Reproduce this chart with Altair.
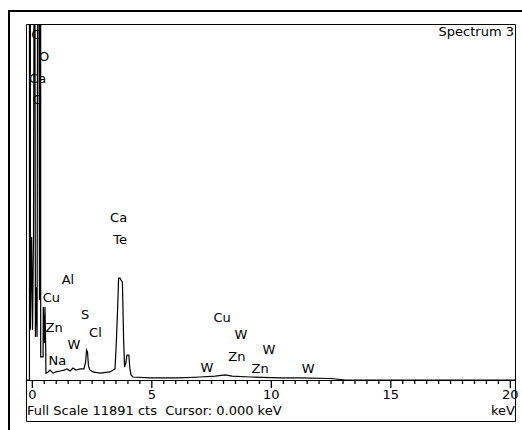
import altair as alt
import pandas as pd

# Spectrum trace (keV, counts); values above full scale are clipped at the top
energy = [-0.22, -0.12, -0.12, -0.08, -0.08, -0.03, 0.01, 0.05, 0.07, 0.11,
          0.13, 0.17, 0.20, 0.22, 0.28, 0.30, 0.32, 0.35, 0.35, 0.45,
          0.46, 0.50, 0.53, 0.56, 0.57, 0.66, 0.74, 0.87, 0.99, 1.16,
          1.33, 1.45, 1.58, 1.70, 1.83, 2.00, 2.16, 2.23, 2.27, 2.31,
          2.35, 2.41, 2.54, 2.83, 3.25, 3.46, 3.52, 3.57, 3.61, 3.67,
          3.71, 3.77, 3.82, 3.86, 3.92, 3.96, 4.04, 4.08, 4.13, 4.21,
          4.92, 6.18, 7.02, 7.65, 8.07, 8.36, 9.11, 10.36, 11.2, 12.5,
          13.1, 20.2]
counts = [0, 0, 13000, 13000, 1670, 4780, 1670, 4780, 13000, 13000,
          1440, 3110, 1440, 13000, 13000, 2670, 13000, 13000, 770, 770,
          2450, 1240, 2450, 1100, 230, 270, 330, 230, 270, 300,
          330, 370, 300, 400, 330, 370, 370, 600, 1000, 930,
          470, 330, 270, 230, 270, 370, 1340, 2400, 3400, 3400,
          3340, 3270, 1340, 430, 600, 830, 830, 400, 170, 100,
          70, 70, 100, 130, 170, 130, 100, 70, 70, 50,
          0, 0]

# Element labels (keV position, counts height)
label_text = ["C", "O", "Ca", "C", "Ca", "Te", "Al", "Cu", "S", "Zn",
              "Cl", "W", "Na", "Cu", "W", "Zn", "W", "W", "Zn", "W"]
label_e = [0.15, 0.49, 0.22, 0.20, 3.61, 3.67, 1.49, 0.80, 2.21, 0.91,
           2.64, 1.74, 1.05, 7.94, 8.73, 8.56, 9.90, 7.31, 9.53, 11.54]
label_c = [11523, 10788, 10053, 9352, 5411, 4676, 3340, 2739, 2171, 1737,
           1570, 1169, 635, 2071, 1503, 768, 1002, 401, 367, 367]

major_ticks = [0, 5, 10, 15, 20]
major_labels = ["0", "5", "10", "15", "20"]
minor_ticks = [v / 2 for v in range(0, 41) if v % 10 != 0]

full_scale = 11891
W, H = 490, 356

xscale = alt.Scale(domain=[-0.264, 20.238], nice=False, zero=False)
yscale = alt.Scale(domain=[0, full_scale], nice=False, zero=True)

spec_df = pd.DataFrame({"e": energy, "c": counts, "i": list(range(len(energy)))})
lab_df = pd.DataFrame({"e": label_e, "c": label_c, "t": label_text})
maj_df = pd.DataFrame({"e": major_ticks, "t": major_labels})
min_df = pd.DataFrame({"e": minor_ticks})
one = pd.DataFrame({"a": [0]})

FONT = "DejaVu Sans"

spectrum = alt.Chart(spec_df).mark_line(color="black", strokeWidth=1.2, clip=True).encode(
    x=alt.X("e:Q", scale=xscale, axis=None),
    y=alt.Y("c:Q", scale=yscale, axis=None),
    order=alt.Order("i:Q"),
)

labels = alt.Chart(lab_df).mark_text(font=FONT, fontSize=13, align="center",
                                     baseline="middle", color="black").encode(
    x=alt.X("e:Q", scale=xscale, axis=None),
    y=alt.Y("c:Q", scale=yscale, axis=None),
    text="t:N",
)

axis_line = alt.Chart(one).mark_rule(color="black", strokeWidth=1).encode(
    x=alt.value(0), x2=alt.value(W), y=alt.value(H + 0.5))

# vertical tick rules: drawn from below the axis up to the axis line
major = alt.Chart(maj_df).mark_rule(color="black", strokeWidth=1.3).encode(
    x=alt.X("e:Q", scale=xscale, axis=None), y=alt.value(H + 8), y2=alt.value(H))
minor = alt.Chart(min_df).mark_rule(color="black", strokeWidth=1.3).encode(
    x=alt.X("e:Q", scale=xscale, axis=None), y=alt.value(H + 4), y2=alt.value(H))
tick_labels = alt.Chart(maj_df).mark_text(font=FONT, fontSize=13, align="center",
                                          baseline="middle", color="black").encode(
    x=alt.X("e:Q", scale=xscale, axis=None), y=alt.value(H + 15), text="t:N")

inner_frame = alt.Chart(one).mark_rect(fillOpacity=0, stroke="black", strokeWidth=1).encode(
    x=alt.value(0.5), x2=alt.value(W - 0.5), y=alt.value(0.5), y2=alt.value(397.5))
outer_frame = alt.Chart(one).mark_rect(fillOpacity=0, stroke="black", strokeWidth=2).encode(
    x=alt.value(-17), x2=alt.value(540), y=alt.value(-13), y2=alt.value(440))

title_txt = alt.Chart(one).mark_text(font=FONT, fontSize=13, align="right",
                                     baseline="middle", color="black",
                                     text="Spectrum 3").encode(
    x=alt.value(W - 2), y=alt.value(8))
bottom_left = alt.Chart(one).mark_text(font=FONT, fontSize=13, align="left",
                                       baseline="middle", color="black",
                                       text="Full Scale 11891 cts\u00a0\u00a0Cursor: 0.000 keV").encode(
    x=alt.value(1), y=alt.value(387))
bottom_right = alt.Chart(one).mark_text(font=FONT, fontSize=13, align="right",
                                        baseline="middle", color="black",
                                        text="keV").encode(
    x=alt.value(W - 1), y=alt.value(387))

chart = alt.layer(
    outer_frame, inner_frame, spectrum, axis_line, minor, major, tick_labels,
    labels, title_txt, bottom_left, bottom_right,
).properties(
    width=W, height=H,
    autosize=alt.AutoSizeParams(type="none"),
    padding={"left": 26, "top": 24, "right": 6, "bottom": 50},
    background="white",
).configure_view(stroke=None)

chart.save("out.html", embed_options={"renderer": "svg", "actions": False})
